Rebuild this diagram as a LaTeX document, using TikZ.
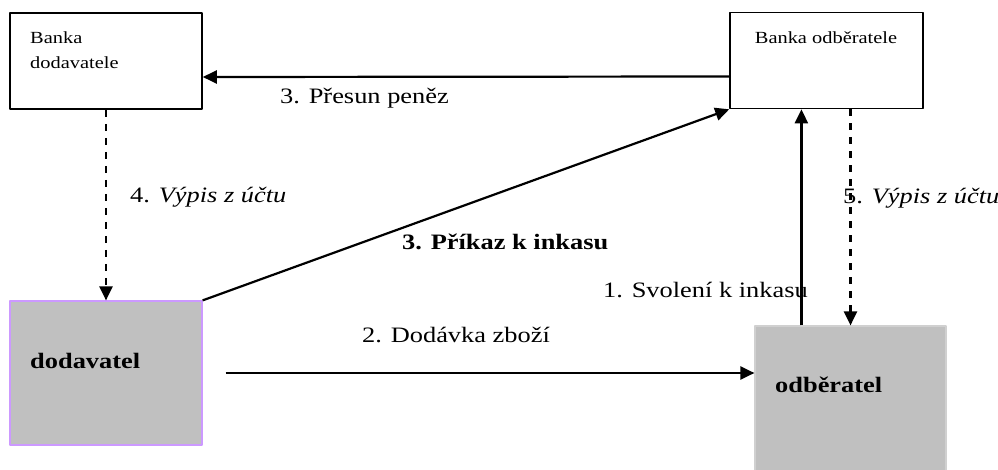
\documentclass[tikz,border=0pt]{standalone}
\usepackage{fontspec}
\setmainfont[FakeStretch=1.2]{Liberation Serif}
\usetikzlibrary{arrows.meta}
\definecolor{boxgray}{HTML}{C0C0C0}
\definecolor{lilac}{HTML}{CC99FF}
\definecolor{edgegray}{HTML}{D0D0D0}
\begin{document}
\begin{tikzpicture}[x=1pt,y=-1pt,line join=round,>={Triangle[length=14pt,width=13pt]}]
				\tikzset{bank/.style={draw,line width=1.6pt,minimum height=96pt,inner sep=0pt},
					party/.style={fill=boxgray,line width=1.2pt,minimum width=192pt,inner sep=0pt},
					flow/.style={->,line width=2.2pt},
					statement/.style={flow,dash pattern=on 7pt off 7pt},
					lbl/.style={anchor=base west,inner sep=0pt,font=\fontsize{22}{26}\selectfont},
					banklbl/.style={lbl,font=\fontsize{17}{20}\selectfont}}
				\useasboundingbox (0,0) rectangle (998,470);
				% boxes
				\node[bank,minimum width=192pt] (bankD) at (106,61) {};
				\node[bank,minimum width=193pt] (bankO) at (826.5,60.5) {};
				\node[party,draw=lilac,minimum height=144pt] (supplier) at (106,373) {};
				\node[party,draw=edgegray,minimum width=191pt,minimum height=164pt] (customer) at (850.5,408) {};
				\foreach \n/\y/\t in {bankDa/44/Banka,bankDb/69/dodavatele}
				\node[banklbl] (\n) at (30,\y) {\t};
				\node[banklbl,anchor=base] (bankOname) at (826,44) {Banka odběratele};
				\node[lbl,font=\fontsize{22}{26}\selectfont\bfseries] (supplierName) at (30,368) {dodavatel};
				\node[lbl,font=\fontsize{22}{26}\selectfont\bfseries] (customerName) at (775,392) {odběratel};
				% flows
				\coordinate (consentStart) at ([xshift=47pt]customer.north west);
				\draw[flow] ([yshift=-16pt]bankO.west) -- ([yshift=-16pt]bankD.east);
				\draw[statement] (bankD.south) -- (supplier.north);
				\draw[flow] (supplier.north east) -- (bankO.south west);
				\draw[flow] ([xshift=23pt]supplier.east) -- (customer.west |- supplier.east);
				\draw[flow] (consentStart) -- (consentStart |- bankO.south);
				\draw[statement] (bankO.south -| customer.north) -- (customer.north);
				% labels
				\node[lbl] (transfer) at (280,104) {3. Přesun peněz};
				\node[lbl] (stmtD) at (130,203) {4. \textit{Výpis z účtu}};
				\node[lbl] (stmtO) at (843,204) {5. \textit{Výpis z účtu}};
				\node[lbl,font=\fontsize{22}{26}\selectfont\bfseries] (order) at (402,250) {3. Příkaz k inkasu};
				\node[lbl] (consent) at (603,297) {1. Svolení k inkasu};
				\node[lbl] (delivery) at (362,342) {2. Dodávka zboží};
\end{tikzpicture}
\end{document}
